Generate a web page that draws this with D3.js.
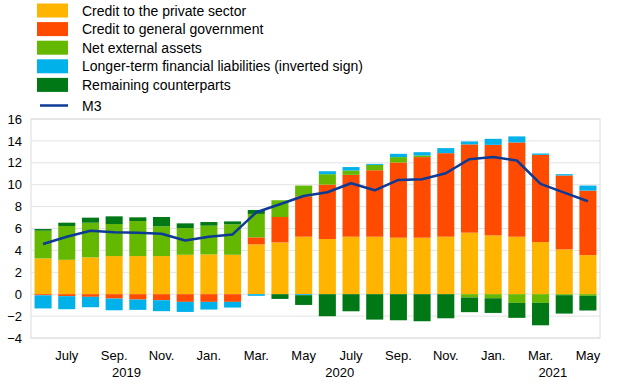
<!DOCTYPE html>
<html>
<head>
<meta charset="utf-8">
<script src="https://cdn.jsdelivr.net/npm/d3@7"></script>
<style>
  body { margin: 0; background: #fff; }
  text { font-family: "Liberation Sans", Arial, sans-serif; fill: #000; }
</style>
</head>
<body>
<div id="chart"></div>
<script>
// months, June 2019 to May 2021
const months = ["2019-06","2019-07","2019-08","2019-09","2019-10","2019-11","2019-12",
  "2020-01","2020-02","2020-03","2020-04","2020-05","2020-06","2020-07","2020-08","2020-09",
  "2020-10","2020-11","2020-12","2021-01","2021-02","2021-03","2021-04","2021-05"];

const seriesNames = ["Credit to the private sector", "Credit to general government",
  "Net external assets", "Longer-term financial liabilities (inverted sign)", "Remaining counterparts"];
const seriesColors = ["#ffb400", "#ff4b00", "#65b800", "#00b1ea", "#007816"];

const privateCredit = [3.27,3.14,3.36,3.48,3.48,3.48,3.6,3.63,3.6,4.55,4.73,5.25,5.04,5.25,5.25,5.16,5.16,5.25,5.62,5.37,5.25,4.76,4.09,3.57];
const govCredit = [-0.1,-0.18,-0.24,-0.4,-0.49,-0.55,-0.7,-0.7,-0.7,0.64,2.32,3.69,4.97,5.65,6.07,6.87,7.36,7.63,8.06,8.27,8.61,7.97,6.75,5.89];
const netExternal = [2.53,3.09,3.17,2.93,3.2,2.72,2.44,2.63,2.78,2.14,1.53,0.98,0.95,0.4,0.49,0.49,0.15,0,-0.3,-0.37,-0.79,-0.79,-0.09,-0.15];
const longerTerm = [-1.2,-1.19,-0.95,-1.07,-0.94,-1.0,-0.92,-0.7,-0.52,-0.15,0,-0.09,0.27,0.31,0.09,0.3,0.3,0.46,0.27,0.55,0.55,0.12,0.12,0.46];
const remaining = [0.15,0.3,0.46,0.7,0.34,0.85,0.43,0.33,0.27,0.36,-0.43,-0.89,-2.01,-1.56,-2.32,-2.38,-2.47,-2.2,-1.34,-1.34,-1.37,-2.05,-1.68,-1.34];
const m3 = [4.58,5.25,5.8,5.65,5.62,5.52,4.91,5.25,5.46,7.48,8.21,8.97,9.31,10.13,9.49,10.44,10.5,11.05,12.33,12.52,12.21,10.07,9.28,8.49];

// tick labels
const xTickMonths = ["2019-07","2019-09","2019-11","2020-01","2020-03","2020-05","2020-07","2020-09","2020-11","2021-01","2021-03","2021-05"];
const xTickLabels = ["July","Sep.","Nov.","Jan.","Mar.","May","July","Sep.","Nov.","Jan.","Mar.","May"];
const yearAnchors = ["2019-09","2020-06","2021-03"];
const yearLabels = ["2019","2020","2021"];
const yTicks = [-4,-2,0,2,4,6,8,10,12,14,16];

const width = 620, height = 387;
const plot = { left: 31, right: 600, top: 119, bottom: 338 };

const svg = d3.select("#chart").append("svg")
  .attr("width", width)
  .attr("height", height);

const table = months.map((m, i) => ({
  month: m,
  s0: privateCredit[i], s1: govCredit[i], s2: netExternal[i], s3: longerTerm[i], s4: remaining[i],
  m3: m3[i]
}));
const keys = ["s0","s1","s2","s3","s4"];

const xScale = d3.scaleBand().domain(months).range([plot.left, plot.right])
  .paddingInner(0.28).paddingOuter(0.15);
const yScale = d3.scaleLinear().domain([-4, 16]).range([plot.bottom, plot.top]);

// grid
svg.append("g")
  .selectAll("line")
  .data(yTicks)
  .join("line")
    .attr("x1", plot.left)
    .attr("x2", plot.right)
    .attr("y1", d => yScale(d))
    .attr("y2", d => yScale(d))
    .attr("stroke", "#e3e3e3")
    .attr("stroke-width", 1);

svg.append("rect")
  .attr("x", plot.left)
  .attr("y", plot.top)
  .attr("width", plot.right - plot.left)
  .attr("height", plot.bottom - plot.top)
  .attr("fill", "none")
  .attr("stroke", "#dcdcdc");

// y axis labels
const yAxis = d3.axisLeft(yScale).tickValues(yTicks).tickSize(0).tickPadding(9);
svg.append("g")
  .attr("transform", `translate(${plot.left},0)`)
  .call(yAxis)
  .call(g => g.select(".domain").remove())
  .selectAll("text")
    .style("font-size", "13px")
    .style("font-family", "'Liberation Sans', Arial, sans-serif")
    .attr("fill", "#000");

// stacked bars
const stacked = d3.stack().keys(keys).offset(d3.stackOffsetDiverging)(table);

svg.append("g")
  .selectAll("g")
  .data(stacked)
  .join("g")
    .attr("fill", (d, i) => seriesColors[i])
  .selectAll("rect")
  .data(d => d)
  .join("rect")
    .attr("x", d => xScale(d.data.month))
    .attr("width", xScale.bandwidth())
    .attr("y", d => yScale(Math.max(d[0], d[1])))
    .attr("height", d => Math.abs(yScale(d[0]) - yScale(d[1])));

// M3 line
svg.append("path")
  .datum(table)
  .attr("fill", "none")
  .attr("stroke", "#0d3a94")
  .attr("stroke-width", 2.5)
  .attr("stroke-linejoin", "round")
  .attr("d", d3.line()
    .x(d => xScale(d.month) + xScale.bandwidth() / 2)
    .y(d => yScale(d.m3)));

// x axis labels
const xAxis = d3.axisBottom(xScale)
  .tickValues(xTickMonths)
  .tickFormat((d, i) => xTickLabels[i])
  .tickSize(0).tickPadding(13);
svg.append("g")
  .attr("transform", `translate(0,${plot.bottom})`)
  .call(xAxis)
  .call(g => g.select(".domain").remove())
  .selectAll("text")
    .style("font-size", "13px")
    .style("font-family", "'Liberation Sans', Arial, sans-serif")
    .attr("fill", "#000");

svg.append("g")
  .selectAll("text")
  .data(yearLabels)
  .join("text")
    .attr("x", (d, i) => xScale(yearAnchors[i]) + xScale.step() * 0.88)
    .attr("y", 377)
    .attr("text-anchor", "middle")
    .style("font-size", "13px")
    .text(d => d);

// legend
const legend = svg.append("g");
seriesNames.forEach((name, i) => {
  const y = 3.5 + i * 18.6;
  legend.append("rect")
    .attr("x", 37).attr("y", y)
    .attr("width", 31).attr("height", 14)
    .attr("fill", seriesColors[i]);
  legend.append("text")
    .attr("x", 82).attr("y", y + 12)
    .style("font-size", "14px")
    .text(name);
});
legend.append("line")
  .attr("x1", 40).attr("x2", 68)
  .attr("y1", 105.5).attr("y2", 105.5)
  .attr("stroke", "#0d3a94").attr("stroke-width", 2.5);
legend.append("text")
  .attr("x", 82).attr("y", 110.5)
  .style("font-size", "14px")
  .text("M3");
</script>
</body>
</html>
